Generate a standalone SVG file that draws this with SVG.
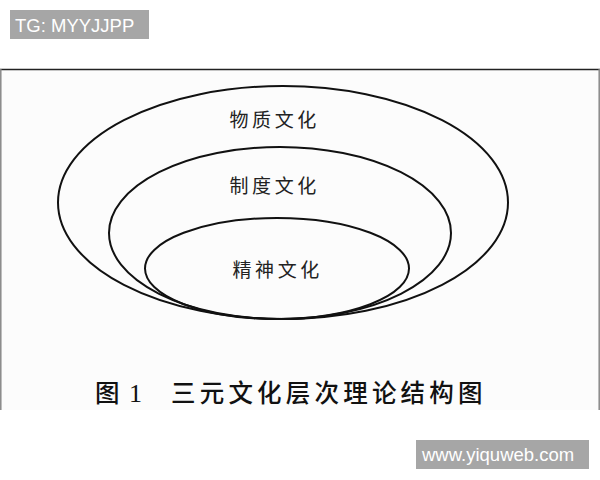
<svg xmlns="http://www.w3.org/2000/svg" width="600" height="480" viewBox="0 0 600 480">
  <style>
    .ring { fill: none; stroke: #111; stroke-width: 2; }
    .lbl { font-family: "Noto Sans CJK SC", "Noto Sans CJK TC", sans-serif; font-size: 19px; fill: #222; letter-spacing: 3.6px; }
    .title { font-family: "Noto Sans CJK SC", sans-serif; font-size: 24.5px; font-weight: 500; fill: #111; letter-spacing: 4.2px; }
    .wm { fill: #a6a6a6; }
    .wmt { font-family: "Liberation Sans", Arial, sans-serif; font-size: 18.5px; fill: #ffffff; }
  </style>
  <rect x="0" y="0" width="600" height="480" fill="#ffffff"/>
  <rect x="0" y="69" width="600" height="341" fill="#fcfcfc"/>
  <line x1="0" y1="69.5" x2="600" y2="69.5" stroke="#222" stroke-width="1.5"/>
  <line x1="0.8" y1="69" x2="0.8" y2="410" stroke="#888" stroke-width="1.5"/>
  <line x1="599.2" y1="69" x2="599.2" y2="410" stroke="#888" stroke-width="1.5"/>

  <g id="watermark-top">
    <rect class="wm" x="10" y="10" width="139" height="29"/>
    <text class="wmt" x="15" y="32">TG: MYYJJPP</text>
  </g>

  <g id="connectors"/>

  <g id="material">
    <ellipse class="ring" cx="283" cy="202.5" rx="225" ry="116.5"/>
    <text class="lbl" x="229.5" y="126.5">物质文化</text>
  </g>
  <g id="institutional">
    <ellipse class="ring" cx="280" cy="233" rx="171" ry="86"/>
    <text class="lbl" x="229.5" y="192.5">制度文化</text>
  </g>
  <g id="spiritual">
    <ellipse class="ring" cx="277" cy="268.5" rx="132" ry="50.5"/>
    <text class="lbl" x="232.5" y="276.5">精神文化</text>
  </g>

  <g id="caption">
    <text class="title" x="95" y="402">图</text>
    <text x="129" y="402" font-family="Liberation Serif, serif" font-size="26" fill="#111">1</text>
    <text class="title" x="171" y="402">三元文化层次理论结构图</text>
  </g>

  <g id="watermark-bottom">
    <rect class="wm" x="416" y="440" width="173" height="29"/>
    <text class="wmt" x="422" y="461">www.yiquweb.com</text>
  </g>
</svg>
